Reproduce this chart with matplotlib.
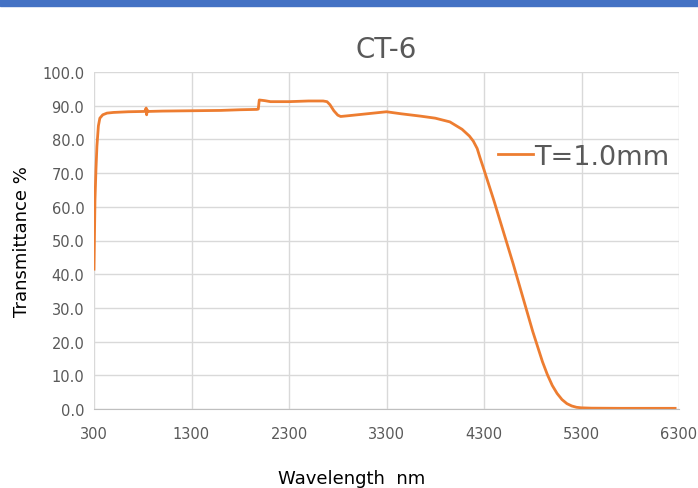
import numpy as np
import matplotlib.pyplot as plt

# wavelength (nm) and transmittance (%)
wavelength = [300, 310, 320, 330, 345, 360, 390, 433, 500, 650, 820, 835, 840, 845, 860,
              1000, 1300, 1600, 1800, 1970, 1985, 1995, 2050, 2110, 2300, 2500, 2650,
              2690, 2720, 2760, 2800, 2830, 2900, 3100, 3300, 3450, 3650, 3800, 3950,
              4075, 4150, 4190, 4230, 4260, 4300, 4350, 4400, 4500, 4600, 4700, 4800,
              4900, 4950, 5000, 5050, 5100, 5150, 5200, 5250, 5300, 5400, 5700, 6000, 6260]
transmittance = [41.5, 62, 71, 78, 84, 86.3, 87.3, 87.8, 88.0, 88.2, 88.3, 89.3, 87.3, 88.7, 88.3,
                 88.4, 88.5, 88.6, 88.8, 88.9, 89.0, 91.7, 91.5, 91.2, 91.2, 91.4, 91.4,
                 91.2, 90.3, 88.5, 87.2, 86.8, 87.0, 87.6, 88.2, 87.6, 86.9, 86.3, 85.2,
                 83.0, 81.0, 79.5, 77.3, 74.5, 71.0, 66.5, 62.0, 52.5, 43.0, 33.0, 23.0,
                 14.0, 10.2, 7.0, 4.6, 2.8, 1.6, 0.9, 0.5, 0.35, 0.25, 0.2, 0.2, 0.2]

xticks = [300, 1300, 2300, 3300, 4300, 5300, 6300]
yticks = [0, 10, 20, 30, 40, 50, 60, 70, 80, 90, 100]

fig = plt.figure(figsize=(6.98, 4.89), dpi=100)
ax = fig.add_axes([94 / 698, 1 - 410 / 489, 585 / 698, 337 / 489])

# blue band across the top of the picture
fig.patches.append(plt.Rectangle((0, 1 - 7 / 489), 1, 7 / 489, transform=fig.transFigure,
                                 color='#4472C4', zorder=0))

ax.plot(wavelength, transmittance, color='#ED7D31', lw=2, label='T=1.0mm')

ax.set_xlim(300, 6300)
ax.set_ylim(0, 100)
ax.set_xticks(xticks)
ax.set_yticks(yticks)
ax.set_yticklabels(['%.1f' % v for v in yticks])
ax.grid(True, color='#d9d9d9', lw=1)
ax.set_axisbelow(True)
for s in ['top', 'right', 'left']:
    ax.spines[s].set_visible(False)
ax.spines['bottom'].set_color('#bfbfbf')
ax.tick_params(length=0, labelsize=10.5, labelcolor='#595959')
ax.tick_params(axis='x', pad=12)
ax.tick_params(axis='y', pad=7)

ax.set_title('CT-6', fontsize=20, color='#595959', pad=11)
ax.set_ylabel('Transmittance %', fontsize=13, labelpad=8)
fig.text(352 / 698, 1 - 479 / 489, 'Wavelength  nm', fontsize=13, ha='center', va='center')

ax.legend(loc='center left', bbox_to_anchor=(0.69, 0.748), frameon=False, fontsize=19.5,
          handlelength=1.3, handletextpad=0.05, borderpad=0, borderaxespad=0,
          labelcolor='#595959')

fig.savefig('out.png', dpi=100)
